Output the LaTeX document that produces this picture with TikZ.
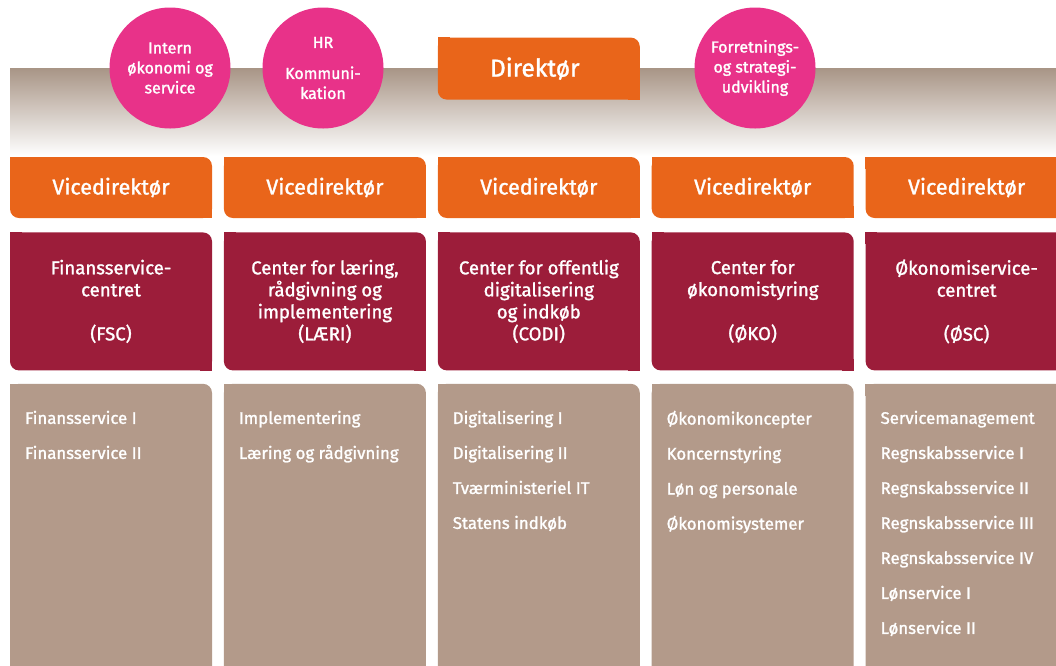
\documentclass[tikz,border=0pt]{standalone}
\usepackage{fontspec}
\setmainfont{Fira Sans}[BoldFont={Fira Sans},BoldFeatures={FakeBold=1.4}]
\usetikzlibrary{positioning}

\definecolor{vdorange}{RGB}{233,101,26}
\definecolor{centerred}{RGB}{156,29,58}
\definecolor{staffpink}{RGB}{232,50,137}
\definecolor{unitbrown}{RGB}{179,154,138}
\definecolor{bandtop}{RGB}{168,149,134}

\begin{document}
\begin{tikzpicture}[x=1pt,y=-1pt,node distance=11.5pt,
    box/.style={rectangle,rounded corners=9pt,minimum width=202pt,inner sep=0pt,
                text=white,align=center},
    vice/.style={box,fill=vdorange,minimum height=61pt,font=\bfseries\fontsize{21.5}{24}\selectfont},
    centre/.style={box,fill=centerred,minimum height=138pt,font=\bfseries\fontsize{18.6}{22}\selectfont},
    units/.style={box,fill=unitbrown,minimum height=320pt},
    unitlist/.style={inner sep=0pt,text=white,align=left,font=\bfseries\fontsize{16.8}{35}\selectfont},
    staff/.style={circle,fill=staffpink,minimum size=121pt,inner sep=0pt,text=white,
                  align=center,font=\bfseries\fontsize{16}{20}\selectfont}]

  \useasboundingbox (0,0) rectangle (1056,665);
  \clip (0,0) rectangle (1056,665);

  % top band
  \shade[top color=bandtop,bottom color=white] (10,68) rectangle (1056,156);

  % vicedirektører
  \node[vice] (v1) at (111,187.5) {Vicedirektør};
  \node[vice] (v2) [right=of v1]  {Vicedirektør};
  \node[vice] (v3) [right=of v2]  {Vicedirektør};
  \node[vice] (v4) [right=of v3]  {Vicedirektør};
  \node[vice] (v5) [right=of v4]  {Vicedirektør};

  \node[vice,minimum height=62pt,font=\bfseries\fontsize{24.5}{26}\selectfont] (dir) [above=57pt of v3] {Direktør\hspace{8pt}};

  % stab
  \node[staff] (ios)  at (170,68) {Intern\\økonomi og\\service};
  \node[staff] (hr)   at (323,68) {HR\\[11pt]Kommuni-\\kation};
  \node[staff] (fsu)  at (755,68) {Forretnings-\\og strategi-\\udvikling};

  % centre
  \node[centre] (c1) [below=14pt of v1] {Finansservice-\\centret\\\mbox{}\\(FSC)};
  \node[centre] (c2) [below=14pt of v2] {Center for læring,\\rådgivning og\\implementering\\(LÆRI)};
  \node[centre] (c3) [below=14pt of v3] {Center for offentlig\\digitalisering\\og indkøb\\(CODI)};
  \node[centre] (c4) [below=14pt of v4] {Center for\\økonomistyring\\\mbox{}\\(ØKO)};
  \node[centre] (c5) [below=14pt of v5] {Økonomiservice-\\centret\\\mbox{}\\(ØSC)};

  % kontorer
  \node[units] (u1) [below=13pt of c1] {};
  \node[units] (u2) [below=13pt of c2] {};
  \node[units] (u3) [below=13pt of c3] {};
  \node[units] (u4) [below=13pt of c4] {};
  \node[units] (u5) [below=13pt of c5] {};

  % square corners (top left, bottom right)
  \foreach \n/\c in {v1/vdorange,v2/vdorange,v3/vdorange,v4/vdorange,v5/vdorange,dir/vdorange,
                     c1/centerred,c2/centerred,c3/centerred,c4/centerred,c5/centerred}{
    \fill[\c] (\n.south east) rectangle ++(-12pt,12pt);
    \fill[\c] (\n.north west) rectangle ++(12pt,-12pt);
  }
  \foreach \n in {u1,u2,u3,u4,u5}
    \fill[unitbrown] (\n.north west) rectangle ++(12pt,-12pt);

  \node[unitlist] (l1) [below right=27pt and 15pt of u1.north west]
    {Finansservice I\\Finansservice II};
  \node[unitlist] (l2) [below right=27pt and 15pt of u2.north west]
    {Implementering\\Læring og rådgivning};
  \node[unitlist] (l3) [below right=27pt and 15pt of u3.north west]
    {Digitalisering I\\Digitalisering II\\Tværministeriel IT\\Statens indkøb};
  \node[unitlist] (l4) [below right=27pt and 15pt of u4.north west]
    {Økonomikoncepter\\Koncernstyring\\Løn og personale\\Økonomisystemer};
  \node[unitlist] (l5) [below right=27pt and 15pt of u5.north west]
    {Servicemanagement\\Regnskabsservice I\\Regnskabsservice II\\Regnskabsservice III\\Regnskabsservice IV\\Lønservice I\\Lønservice II};
\end{tikzpicture}
\end{document}
